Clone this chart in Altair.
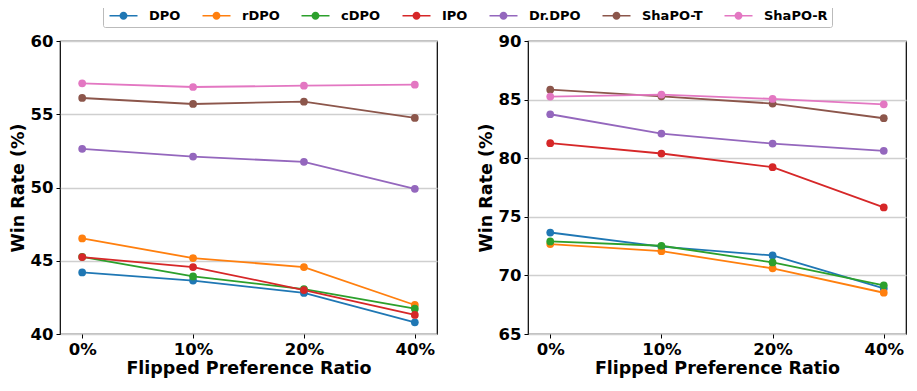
import altair as alt
import pandas as pd

ratios = ["0%", "10%", "20%", "40%"]
methods = ["DPO", "rDPO", "cDPO", "IPO", "Dr.DPO", "ShaPO-T", "ShaPO-R"]
colors = ["#1f77b4", "#ff7f0e", "#2ca02c", "#d62728", "#9467bd", "#8c564b", "#e377c2"]

left_values = {
    "DPO": [44.2, 43.65, 42.8, 40.8],
    "rDPO": [46.52, 45.18, 44.57, 41.98],
    "cDPO": [45.27, 43.93, 43.07, 41.73],
    "IPO": [45.25, 44.57, 43.0, 41.3],
    "Dr.DPO": [52.64, 52.11, 51.75, 49.91],
    "ShaPO-T": [56.11, 55.7, 55.86, 54.75],
    "ShaPO-R": [57.11, 56.86, 56.95, 57.02],
}
right_values = {
    "DPO": [73.66, 72.45, 71.7, 68.89],
    "rDPO": [72.67, 72.07, 70.6, 68.52],
    "cDPO": [72.9, 72.53, 71.11, 69.15],
    "IPO": [81.28, 80.4, 79.23, 75.8],
    "Dr.DPO": [83.75, 82.1, 81.25, 80.63],
    "ShaPO-T": [85.85, 85.28, 84.66, 83.41],
    "ShaPO-R": [85.26, 85.43, 85.06, 84.6],
}
left_domain = [40, 60]
left_ticks = [40, 45, 50, 55, 60]
right_domain = [65, 90]
right_ticks = [65, 70, 75, 80, 85, 90]


def to_df(values):
    rows = []
    for m in methods:
        for r, v in zip(ratios, values[m]):
            rows.append({"ratio": r, "method": m, "value": v})
    return pd.DataFrame(rows)


FONT = "DejaVu Sans"
# line + dot legend glyph, drawn to the right of the symbol slot
SYMBOL = ("M-1,-0.2L6,-0.2L6,0.2L-1,0.2Z "
          "M3.5,0A1,1 0 1,1 1.5,0A1,1 0 1,1 3.5,0Z")

color_scale = alt.Scale(domain=methods, range=colors)

LEG = alt.Legend(
    title=None, orient="none", legendX=43, legendY=-36,
    direction="horizontal", columns=7,
    symbolType=SYMBOL, symbolSize=64, symbolStrokeWidth=0,
    labelFont=FONT, labelFontSize=13, labelFontWeight="bold",
    labelColor="black", labelOffset=29, columnPadding=19,
    padding=4, fillColor="white", strokeColor="#bbbbbb",
    cornerRadius=2,
)


def panel(values, domain, ticks, width):
    df = to_df(values)
    x = alt.X("ratio:N", sort=ratios, title="Flipped Preference Ratio",
              scale=alt.Scale(type="point", padding=0.2),
              axis=alt.Axis(labelAngle=0))
    y = alt.Y("value:Q", title="Win Rate (%)",
              scale=alt.Scale(domain=domain, nice=False, zero=False),
              axis=alt.Axis(values=ticks))
    color = alt.Color("method:N", scale=color_scale, sort=methods, legend=LEG)
    line = alt.Chart(df).mark_line(strokeWidth=1.8).encode(
        x=x, y=y, color=color,
    )
    pts = alt.Chart(df).mark_circle(size=60, opacity=1).encode(
        x=x, y=y, color=color,
    )
    return alt.layer(line, pts).properties(width=width, height=293)


left = panel(left_values, left_domain, left_ticks, 377)
right = panel(right_values, right_domain, right_ticks, 378)

chart = alt.hconcat(left, right, spacing=38).resolve_scale(
    color="shared", y="independent"
).properties(
    padding={"left": 0, "top": -4, "right": 0, "bottom": 0}
).configure_view(
    stroke="black", strokeWidth=1.2
).configure_axis(
    labelFont=FONT, labelFontSize=16.5, labelFontWeight="bold", labelColor="black",
    titleFont=FONT, titleFontSize=17.5, titleFontWeight="bold", titleColor="black",
    domain=False, tickColor="black", tickSize=4, tickWidth=1,
    gridColor="#cfcfcf", gridWidth=1.4, labelPadding=3,
).configure_axisY(
    titlePadding=3
).configure_axisX(
    titlePadding=2
)

chart.save("out.html", embed_options={"renderer": "svg", "actions": False})
